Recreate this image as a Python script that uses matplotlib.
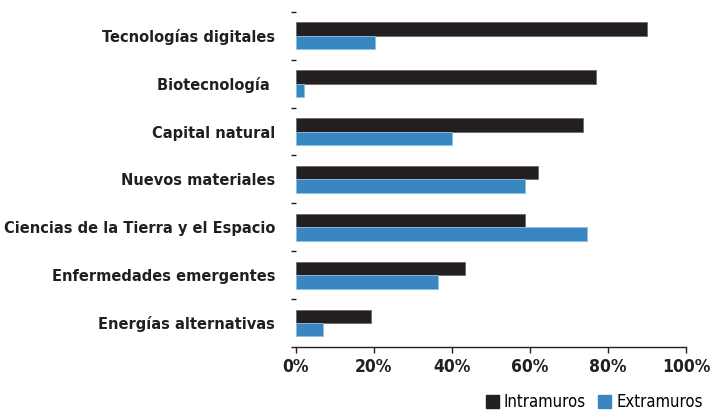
import numpy as np
import matplotlib
matplotlib.use('Agg')
from matplotlib import pyplot as plt
from matplotlib import font_manager
from matplotlib.patches import Patch

# Categories from top to bottom and the share for each type of R&D
categories = [
    "Tecnologías digitales",
    "Biotecnología ",
    "Capital natural",
    "Nuevos materiales",
    "Ciencias de la Tierra y el Espacio",
    "Enfermedades emergentes",
    "Energías alternativas",
]
intramuros = [90.0, 77.0, 73.6, 62.1, 58.7, 43.4, 19.2]
extramuros = [20.4, 2.0, 40.0, 58.7, 74.7, 36.4, 7.0]
x_ticks = [0, 20, 40, 60, 80, 100]

dark = '#231f20'
blue = '#3887c0'

# prefer a narrow family if one is installed
narrow = [f for f in font_manager.fontManager.ttflist
          if 'Narrow' in f.name or 'Condensed' in f.name or f.stretch in ('condensed', 'semi-condensed')]
if narrow:
    font = [narrow[0].name, 'DejaVu Sans']
    stretch = narrow[0].stretch
    label_size, tick_size, leg_size = 11.7, 12.5, 12
else:
    font = ['Liberation Sans', 'DejaVu Sans']
    stretch = 'normal'
    label_size, tick_size, leg_size = 10.5, 12, 11

fig = plt.figure(figsize=(7.13, 4.11), dpi=100)
ax = fig.add_axes([0.415, 0.156, 0.547, 0.815])

y = np.arange(len(categories))
h = 0.28
ax.barh(y - h / 2, intramuros, height=h, color=dark, edgecolor='#6d6a6b', linewidth=0.6)
ax.barh(y + h / 2, extramuros, height=h, color=blue, edgecolor='#8fc0e0', linewidth=0.6)

ax.set_xlim(0, 100)
ax.set_ylim(len(categories) - 0.5, -0.5)

# category names without ticks, small ticks on the boundaries instead
ax.set_yticks(y)
ax.set_yticklabels(categories, fontfamily=font, fontstretch=stretch, fontweight='bold',
                   fontsize=label_size, color=dark)
ax.tick_params(axis='y', which='major', length=0, pad=15)
ax.set_yticks(np.arange(-0.5, len(categories), 1), minor=True)
ax.tick_params(axis='y', which='minor', length=3.5, width=1, color=dark)

ax.set_xticks(x_ticks)
ax.set_xticklabels([f"{t}%" for t in x_ticks], fontfamily=font, fontstretch=stretch,
                   fontweight='bold', fontsize=tick_size, color=dark)
ax.tick_params(axis='x', length=4, width=1, color=dark, pad=4)

for side in ['top', 'right', 'left']:
    ax.spines[side].set_visible(False)
ax.spines['bottom'].set_color(dark)
ax.spines['bottom'].set_linewidth(1)

handles = [Patch(color=dark, label='Intramuros'), Patch(color=blue, label='Extramuros')]
fig.legend(handles=handles, loc='lower right', bbox_to_anchor=(0.99, -0.008), ncol=2,
           frameon=False, prop={'family': font, 'stretch': stretch, 'size': leg_size},
           borderaxespad=0.1, borderpad=0.1,
           handlelength=0.8, handleheight=0.8, handletextpad=0.3, columnspacing=0.7)

fig.savefig('out.png', dpi=100)
